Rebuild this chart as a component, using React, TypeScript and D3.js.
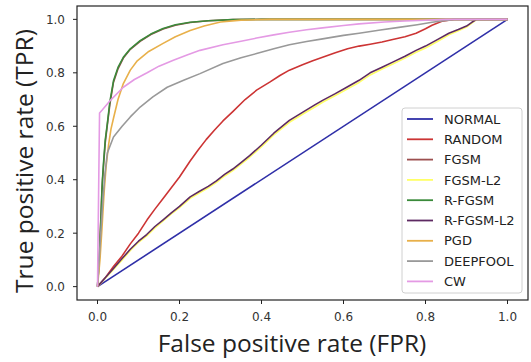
import * as d3 from "d3";

type Pt = [number, number];

const xTicks = [0, 0.2, 0.4, 0.6, 0.8, 1.0];
const yTicks = [0, 0.2, 0.4, 0.6, 0.8, 1.0];

const normalRoc: Pt[] = [[0, 0], [1, 1]];

const randomRoc: Pt[] = [
  [0, 0], [0.02, 0.035], [0.039, 0.075], [0.06, 0.115], [0.08, 0.16], [0.1, 0.2],
  [0.121, 0.25], [0.14, 0.29], [0.16, 0.33], [0.18, 0.37], [0.2, 0.41], [0.226, 0.47],
  [0.245, 0.51], [0.265, 0.55], [0.285, 0.585], [0.306, 0.62], [0.33, 0.655],
  [0.36, 0.7], [0.388, 0.735], [0.42, 0.765], [0.445, 0.79], [0.468, 0.81],
  [0.5, 0.83], [0.525, 0.845], [0.549, 0.858], [0.58, 0.875], [0.61, 0.89],
  [0.638, 0.9], [0.665, 0.907], [0.694, 0.915], [0.72, 0.925], [0.75, 0.935],
  [0.777, 0.948], [0.8, 0.965], [0.816, 0.978], [0.84, 0.993], [0.87, 1.0], [1, 1],
];

const fgsmRoc: Pt[] = [
  [0, 0], [0.004, 0.1], [0.008, 0.25], [0.011, 0.37], [0.015, 0.46], [0.019, 0.54],
  [0.024, 0.605], [0.03, 0.68], [0.039, 0.765], [0.05, 0.815], [0.063, 0.855],
  [0.08, 0.888], [0.104, 0.918], [0.13, 0.943], [0.16, 0.964], [0.19, 0.978],
  [0.226, 0.988], [0.27, 0.995], [0.33, 0.999], [0.4, 1], [1, 1],
];

const fgsmL2Roc: Pt[] = [
  [0, 0], [0.02, 0.033], [0.04, 0.066], [0.06, 0.1], [0.08, 0.135], [0.1, 0.166],
  [0.12, 0.19], [0.14, 0.22], [0.16, 0.246], [0.18, 0.272], [0.2, 0.296],
  [0.226, 0.33], [0.25, 0.352], [0.27, 0.37], [0.29, 0.39], [0.31, 0.414],
  [0.33, 0.434], [0.35, 0.458], [0.371, 0.484], [0.4, 0.524], [0.43, 0.568],
  [0.468, 0.615], [0.5, 0.645], [0.53, 0.672], [0.549, 0.69], [0.58, 0.715],
  [0.61, 0.74], [0.638, 0.764], [0.665, 0.792], [0.694, 0.814], [0.72, 0.833],
  [0.75, 0.855], [0.777, 0.877], [0.8, 0.893], [0.83, 0.918], [0.857, 0.942],
  [0.88, 0.957], [0.9, 0.971], [0.913, 0.986], [0.925, 1.0], [1, 1],
];

const rFgsmRoc: Pt[] = [
  [0, 0], [0.005, 0.12], [0.009, 0.28], [0.012, 0.4], [0.015, 0.47], [0.019, 0.55],
  [0.024, 0.61], [0.03, 0.69], [0.039, 0.77], [0.05, 0.82], [0.063, 0.858],
  [0.08, 0.89], [0.104, 0.92], [0.13, 0.945], [0.16, 0.966], [0.19, 0.98],
  [0.226, 0.989], [0.27, 0.995], [0.33, 0.999], [0.4, 1], [1, 1],
];

const rFgsmL2Roc: Pt[] = [
  [0, 0], [0.02, 0.035], [0.04, 0.07], [0.06, 0.105], [0.08, 0.14], [0.1, 0.17],
  [0.12, 0.195], [0.14, 0.225], [0.16, 0.25], [0.18, 0.276], [0.2, 0.3],
  [0.226, 0.336], [0.25, 0.358], [0.27, 0.375], [0.29, 0.396], [0.31, 0.42],
  [0.33, 0.44], [0.35, 0.464], [0.371, 0.49], [0.4, 0.53], [0.43, 0.574],
  [0.468, 0.622], [0.5, 0.652], [0.53, 0.68], [0.549, 0.697], [0.58, 0.722],
  [0.61, 0.748], [0.638, 0.772], [0.665, 0.8], [0.694, 0.821], [0.72, 0.84],
  [0.75, 0.862], [0.777, 0.884], [0.8, 0.9], [0.83, 0.925], [0.857, 0.948],
  [0.88, 0.962], [0.9, 0.975], [0.913, 0.989], [0.925, 1.0], [1, 1],
];

const pgdRoc: Pt[] = [
  [0, 0], [0.006, 0.1], [0.011, 0.22], [0.016, 0.35], [0.021, 0.45], [0.027, 0.53],
  [0.033, 0.59], [0.039, 0.63], [0.05, 0.7], [0.063, 0.76], [0.08, 0.81],
  [0.097, 0.845], [0.125, 0.88], [0.16, 0.91], [0.19, 0.935], [0.226, 0.958],
  [0.26, 0.975], [0.3, 0.99], [0.35, 0.997], [0.42, 1], [1, 1],
];

const deepfoolRoc: Pt[] = [
  [0, 0], [0.008, 0.2], [0.013, 0.32], [0.018, 0.42], [0.024, 0.5], [0.039, 0.56],
  [0.06, 0.6], [0.08, 0.635], [0.104, 0.672], [0.135, 0.71], [0.17, 0.746],
  [0.21, 0.772], [0.25, 0.797], [0.306, 0.835], [0.35, 0.856], [0.388, 0.872],
  [0.43, 0.89], [0.468, 0.905], [0.51, 0.917], [0.549, 0.927], [0.6, 0.94],
  [0.638, 0.948], [0.69, 0.96], [0.735, 0.97], [0.78, 0.98], [0.816, 0.989],
  [0.87, 1.0], [1, 1],
];

const cwRoc: Pt[] = [
  [0, 0], [0.005, 0.65], [0.012, 0.662], [0.032, 0.698], [0.063, 0.746],
  [0.09, 0.775], [0.121, 0.8], [0.15, 0.825], [0.185, 0.847], [0.22, 0.868],
  [0.25, 0.884], [0.306, 0.905], [0.35, 0.918], [0.388, 0.93], [0.43, 0.942],
  [0.468, 0.952], [0.51, 0.961], [0.549, 0.968], [0.6, 0.977], [0.638, 0.983],
  [0.7, 0.99], [0.75, 0.994], [0.85, 1.0], [1, 1],
];

const seriesNames = ["NORMAL", "RANDOM", "FGSM", "FGSM-L2", "R-FGSM", "R-FGSM-L2", "PGD", "DEEPFOOL", "CW"];
const seriesData = [normalRoc, randomRoc, fgsmRoc, fgsmL2Roc, rFgsmRoc, rFgsmL2Roc, pgdRoc, deepfoolRoc, cwRoc];
const seriesColors = ["#2f2fa8", "#cc3434", "#9c4f4f", "#ffff66", "#3a8a3a", "#5e2a62", "#e8b04a", "#999999", "#e49ae4"];

export default function App() {
  const width = 531;
  const height = 362;
  const plot = { left: 77, right: 528, top: 6, bottom: 300 };

  const x = d3.scaleLinear().domain([-0.05, 1.05]).range([plot.left, plot.right]);
  const y = d3.scaleLinear().domain([-0.05, 1.05]).range([plot.bottom, plot.top]);

  const line = d3
    .line<Pt>()
    .x((d) => x(d[0]))
    .y((d) => y(d[1]));

  const tickFont = "DejaVu Sans, sans-serif";
  const legend = { x: 402, y: 108, w: 120, h: 185, rowH: 20.3, first: 11 };

  return (
    <svg
      width={width}
      height={height}
      style={{ position: "absolute", left: 0, top: 0, background: "#fff" }}
    >
      <rect width={width} height={height} fill="#fff" />

      {seriesData.map((d, i) => (
        <path
          key={seriesNames[i]}
          d={line(d) ?? ""}
          fill="none"
          stroke={seriesColors[i]}
          strokeWidth={1.6}
          strokeLinejoin="round"
        />
      ))}

      {/* spines */}
      <rect
        x={plot.left}
        y={plot.top}
        width={plot.right - plot.left}
        height={plot.bottom - plot.top}
        fill="none"
        stroke="#222"
        strokeWidth={1.2}
      />

      {xTicks.map((t) => (
        <g key={"x" + t} transform={`translate(${x(t)},${plot.bottom})`}>
          <line y2={4} stroke="#222" strokeWidth={1} />
          <text
            y={21}
            textAnchor="middle"
            fontFamily={tickFont}
            fontSize={12}
            fill="#333"
          >
            {t.toFixed(1)}
          </text>
        </g>
      ))}

      {yTicks.map((t) => (
        <g key={"y" + t} transform={`translate(${plot.left},${y(t)})`}>
          <line x2={-4} stroke="#222" strokeWidth={1} />
          <text
            x={-12}
            dy="0.36em"
            textAnchor="end"
            fontFamily={tickFont}
            fontSize={12}
            fill="#333"
          >
            {t.toFixed(1)}
          </text>
        </g>
      ))}

      <text
        x={292}
        y={352}
        textAnchor="middle"
        fontFamily="Open Sans, sans-serif"
        fontSize={24.5}
        fill="#222"
      >
        False positive rate (FPR)
      </text>
      <text
        transform="translate(33,161) rotate(-90)"
        textAnchor="middle"
        fontFamily="Open Sans, sans-serif"
        fontSize={24.5}
        fill="#222"
      >
        True positive rate (TPR)
      </text>

      {/* legend */}
      <rect
        x={legend.x}
        y={legend.y}
        width={legend.w}
        height={legend.h}
        rx={3}
        fill="#fff"
        fillOpacity={0.8}
        stroke="#d0d0d0"
        strokeWidth={1}
      />
      {seriesNames.map((name, i) => {
        const cy = legend.y + legend.first + i * legend.rowH;
        return (
          <g key={"lg" + name}>
            <line
              x1={407}
              x2={433}
              y1={cy}
              y2={cy}
              stroke={seriesColors[i]}
              strokeWidth={1.8}
            />
            <text
              x={444}
              y={cy}
              dy="0.36em"
              fontFamily={tickFont}
              fontSize={13}
              fill="#222"
            >
              {name}
            </text>
          </g>
        );
      })}
    </svg>
  );
}
